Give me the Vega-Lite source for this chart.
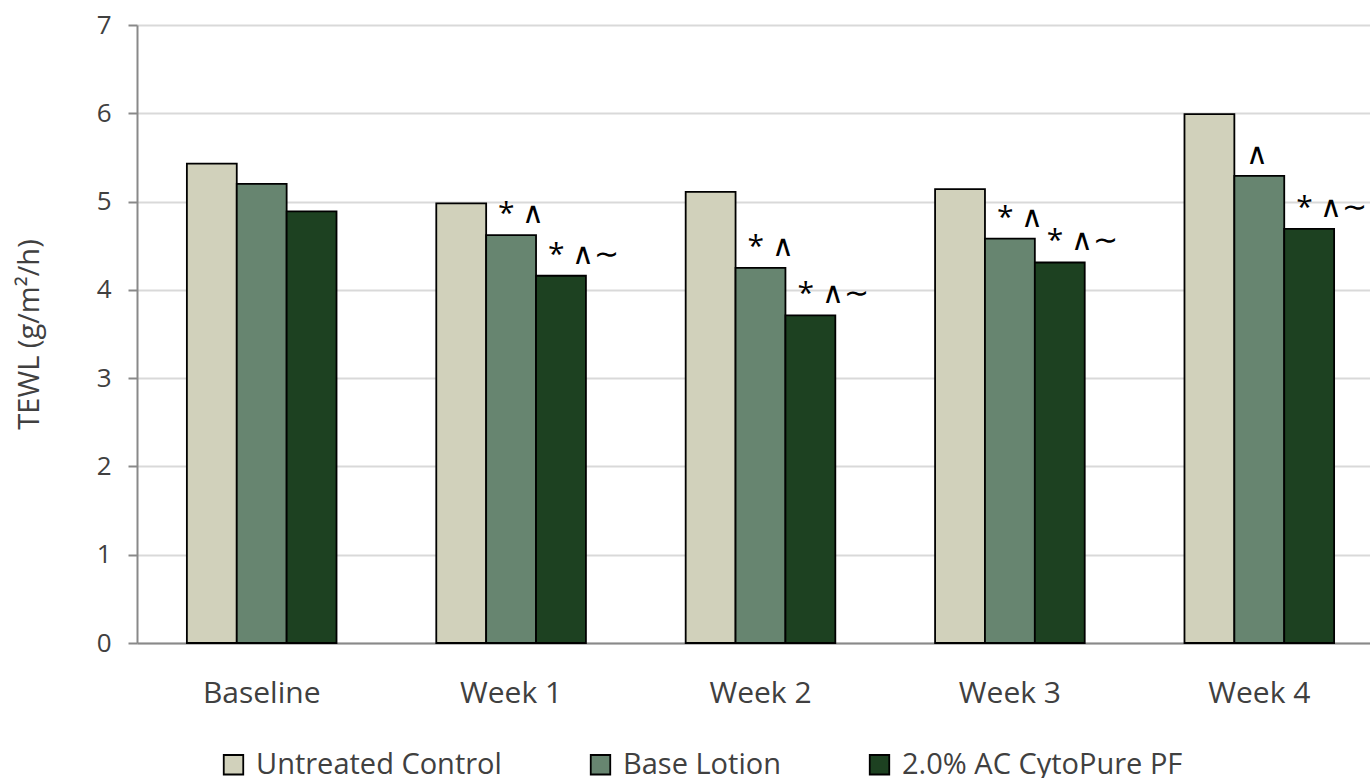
{
  "$schema": "https://vega.github.io/schema/vega-lite/v6.json",
  "width": 1233,
  "height": 618,
  "autosize": {"type": "none"},
  "padding": {"left": 137, "top": 25, "right": 0, "bottom": 135},
  "config": {"view": {"stroke": null}, "font": "Open Sans"},
  "data": {
    "values": [
      {"week": "Baseline", "group": "Untreated Control", "tewl": 5.43, "sig": ""},
      {"week": "Baseline", "group": "Base Lotion", "tewl": 5.2, "sig": ""},
      {"week": "Baseline", "group": "2.0% AC CytoPure PF", "tewl": 4.89, "sig": ""},
      {"week": "Week 1", "group": "Untreated Control", "tewl": 4.98, "sig": ""},
      {"week": "Week 1", "group": "Base Lotion", "tewl": 4.62, "sig": "* ∧"},
      {"week": "Week 1", "group": "2.0% AC CytoPure PF", "tewl": 4.16, "sig": "* ∧∼"},
      {"week": "Week 2", "group": "Untreated Control", "tewl": 5.11, "sig": ""},
      {"week": "Week 2", "group": "Base Lotion", "tewl": 4.25, "sig": "* ∧"},
      {"week": "Week 2", "group": "2.0% AC CytoPure PF", "tewl": 3.71, "sig": "* ∧∼"},
      {"week": "Week 3", "group": "Untreated Control", "tewl": 5.14, "sig": ""},
      {"week": "Week 3", "group": "Base Lotion", "tewl": 4.58, "sig": "* ∧"},
      {"week": "Week 3", "group": "2.0% AC CytoPure PF", "tewl": 4.31, "sig": "* ∧∼"},
      {"week": "Week 4", "group": "Untreated Control", "tewl": 5.99, "sig": ""},
      {"week": "Week 4", "group": "Base Lotion", "tewl": 5.29, "sig": "∧"},
      {"week": "Week 4", "group": "2.0% AC CytoPure PF", "tewl": 4.69, "sig": "* ∧∼"}
    ]
  },
  "encoding": {
    "x": {
      "field": "week",
      "type": "nominal",
      "sort": ["Baseline", "Week 1", "Week 2", "Week 3", "Week 4"],
      "scale": {"range": [0, 1247], "paddingInner": 0.4, "paddingOuter": 0.2},
      "axis": {
        "title": null,
        "labelAngle": 0,
        "labelFontSize": 30,
        "labelColor": "#404040",
        "labelPadding": 35,
        "ticks": false,
        "domainColor": "#898989",
        "domainWidth": 2,
        "grid": false
      }
    },
    "xOffset": {
      "field": "group",
      "type": "nominal",
      "sort": ["Untreated Control", "Base Lotion", "2.0% AC CytoPure PF"],
      "scale": {"paddingInner": 0, "paddingOuter": 0}
    },
    "y": {
      "field": "tewl",
      "type": "quantitative",
      "scale": {"domain": [0, 7]},
      "axis": {
        "title": "TEWL (g/m²/h)",
        "titleFontSize": 29,
        "titleFontWeight": "normal",
        "titleColor": "#404040",
        "titlePadding": 52,
        "values": [0, 1, 2, 3, 4, 5, 6, 7],
        "labelFontSize": 26,
        "labelColor": "#404040",
        "labelPadding": 17,
        "tickSize": 9,
        "tickColor": "#898989",
        "tickWidth": 2,
        "domainColor": "#898989",
        "domainWidth": 2,
        "gridColor": "#d9d9d9",
        "gridWidth": 2
      }
    }
  },
  "layer": [
    {
      "mark": {"type": "bar", "stroke": "black", "strokeWidth": 1.8},
      "encoding": {
        "color": {
          "field": "group",
          "type": "nominal",
          "sort": ["Untreated Control", "Base Lotion", "2.0% AC CytoPure PF"],
          "scale": {
            "domain": ["Untreated Control", "Base Lotion", "2.0% AC CytoPure PF"],
            "range": ["#d1d1bb", "#678570", "#1d4121"]
          },
          "legend": {
            "title": null,
            "orient": "none",
            "direction": "horizontal",
            "legendX": 82,
            "legendY": 725,
            "symbolType": "square",
            "symbolSize": 380,
            "symbolStrokeColor": "black",
            "symbolStrokeWidth": 1.8,
            "symbolOpacity": 1,
            "labelFontSize": 29,
            "labelColor": "#404040",
            "labelOffset": 8,
            "columnPadding": 84,
            "labelLimit": 400
          }
        }
      }
    },
    {
      "mark": {"type": "text", "align": "left", "baseline": "bottom", "dx": -13, "dy": -6, "fontSize": 30, "color": "black"},
      "encoding": {"text": {"field": "sig"}}
    }
  ]
}
